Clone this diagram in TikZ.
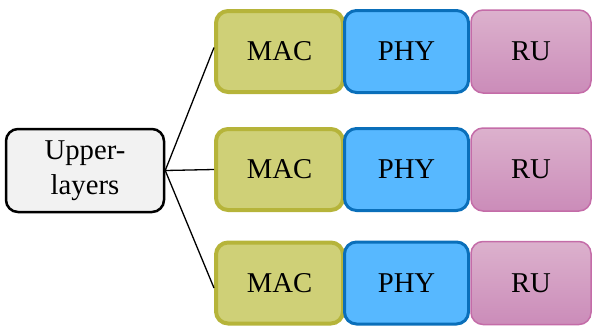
\documentclass[tikz,border=0pt]{standalone}
\usepackage{fontspec}
\setmainfont{Liberation Serif}
\definecolor{upfill}{HTML}{F2F2F2}
\definecolor{macfill}{HTML}{CFD077}
\definecolor{macdraw}{HTML}{B6B43A}
\definecolor{phyfill}{HTML}{57B8FF}
\definecolor{phydraw}{HTML}{0A6FBA}
\definecolor{rutop}{HTML}{DCB1CD}
\definecolor{rubot}{HTML}{CB8CB9}
\definecolor{rudraw}{HTML}{C46CA8}
\begin{document}
\begin{tikzpicture}[x=1pt,y=-1pt,
  every node/.style={font=\fontsize{28.7}{35}\selectfont, inner sep=0pt, align=center},
  upbox/.style={draw=black, line width=2.5pt, fill=upfill, rounded corners=12pt, minimum width=158pt, minimum height=83pt},
  macbox/.style={draw=macdraw, line width=4pt, fill=macfill, rounded corners=12pt, minimum width=127pt, minimum height=81pt},
  phybox/.style={draw=phydraw, line width=3pt, fill=phyfill, rounded corners=12pt, minimum width=124pt, minimum height=82pt},
  rubox/.style={draw=rudraw, line width=1.5pt, top color=rutop, bottom color=rubot, rounded corners=12pt, minimum width=120pt, minimum height=83pt},
  link/.style={draw=black, line width=1.3pt}]
\useasboundingbox (0,0) rectangle (594,327);
\node[upbox] (up) at (85,170.5) {Upper-\\layers};
\foreach \r/\y in {1/51.5, 2/169.5, 3/283} {
  \node[macbox] (mac\r) at (279.5,\y) {\raisebox{-1.5pt}{MAC}};
  \node[phybox] (phy\r) at (406.5,\y) {\raisebox{-1.5pt}{PHY}};
  \node[rubox] (ru\r) at (531,\y) {\raisebox{-1.5pt}{RU}};
}
\draw[link] (up.east) -- ([yshift=4pt]mac1.west);
\draw[link] (up.east) -- (mac2.west);
\draw[link] (up.east) -- ([yshift=-5pt]mac3.west);
\end{tikzpicture}
\end{document}
